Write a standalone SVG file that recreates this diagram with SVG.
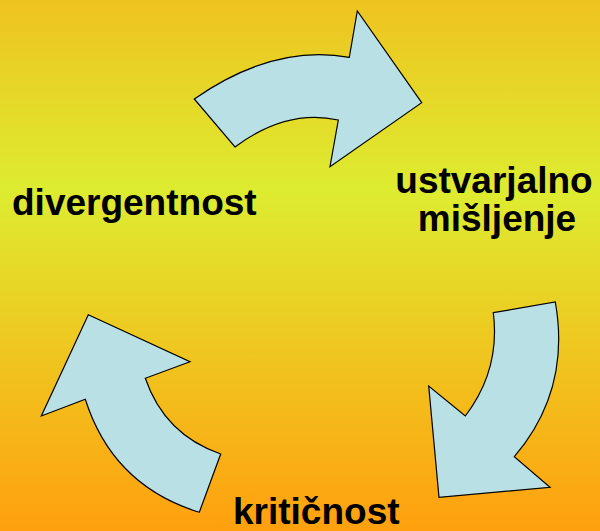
<svg xmlns="http://www.w3.org/2000/svg" width="600" height="531" viewBox="0 0 600 531">
<defs>
<linearGradient id="bg" x1="0" y1="0" x2="0" y2="1">
<stop offset="0" stop-color="#EFC320"/>
<stop offset="0.36" stop-color="#DDEC30"/>
<stop offset="0.62" stop-color="#EDCB22"/>
<stop offset="1" stop-color="#FFA00E"/>
</linearGradient>
</defs>
<style>
.arrow{fill:#B9E0E4;stroke:#000;stroke-width:1.2;stroke-linejoin:miter}
.lbl{font-family:"Liberation Sans",Arial,sans-serif;font-weight:bold;font-size:37px;fill:#000}
</style>
<rect x="0" y="0" width="600" height="531" fill="url(#bg)"/>
<g id="connectors">
<path id="arrow-top" class="arrow" d="M194.3,99 Q273,44 349.3,57.3 L357.3,11 L421.7,102.7 L330,166.7 L338.3,120 Q286.5,108.5 235,147 Z"/>
<path id="arrow-right" class="arrow" d="M493.3,312.7 L555.3,302 Q571,390 514.3,456.7 L550,487.3 L439,497.3 L428.7,386 L465.3,416 Q500.5,370 493.3,312.7 Z"/>
<path id="arrow-left" class="arrow" d="M88.3,314.7 L190,361.7 L145.3,378.3 Q164.6,434.6 220.7,454 L199.3,512.3 Q112.7,485.6 85.3,399.3 L41.3,416 Z"/>
</g>
<g id="node-divergentnost"><text class="lbl" x="12" y="215">divergentnost</text></g>
<g id="node-ustvarjalno"><text class="lbl" x="494" y="193" text-anchor="middle">ustvarjalno</text><text class="lbl" x="497" y="231" text-anchor="middle">mišljenje</text></g>
<g id="node-kriticnost"><text class="lbl" x="233" y="524">kritičnost</text></g>
</svg>
